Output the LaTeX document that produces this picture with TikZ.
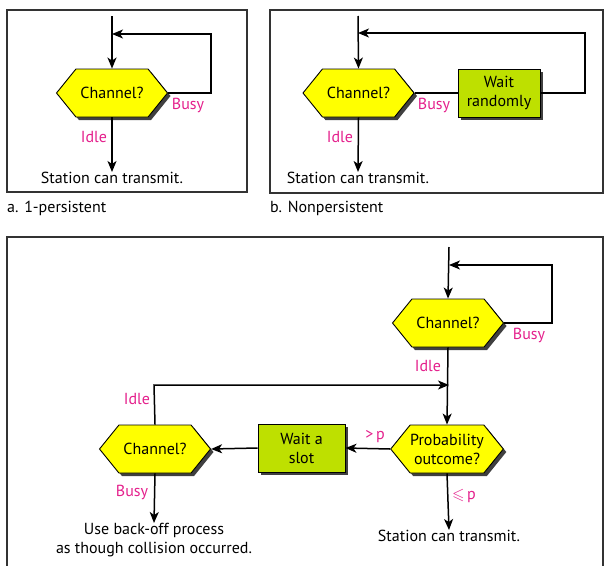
\documentclass[tikz,border=0pt]{standalone}
\usepackage{amssymb}
\usepackage{fontspec}
\setmainfont{PT Sans}
\usetikzlibrary{shapes.symbols,shadows,arrows.meta}
\definecolor{hexyellow}{RGB}{255,255,0}
\definecolor{waitgreen}{RGB}{190,224,0}
\definecolor{labelpink}{RGB}{228,32,140}
\newcommand{\figfont}{\fontsize{16}{19}\selectfont}
\begin{document}
\begin{tikzpicture}[x=1pt,y=-1pt,>={Stealth[length=11pt,width=9pt,inset=3pt]}]

\tikzstyle{framebox} = [draw=black!80,line width=1.3pt];
\tikzstyle{channelnode} = [signal,signal to=east and west,signal pointer angle=102,minimum width=111pt,minimum height=48pt,inner sep=0pt,draw,line width=0.9pt,fill=hexyellow,align=center,font=\figfont,drop shadow={shadow xshift=3pt,shadow yshift=-3pt,fill=black!75,opacity=1}];
\tikzstyle{waitnode} = [rectangle,minimum height=48pt,inner sep=0pt,draw,line width=0.9pt,fill=waitgreen,align=center,font=\figfont,drop shadow={shadow xshift=3pt,shadow yshift=-3pt,fill=black!75,opacity=1}];
\tikzstyle{linklabel} = [text=labelpink,font=\figfont,inner sep=0pt];
\tikzstyle{plaintext} = [font=\figfont,inner sep=0pt,align=center];
\tikzstyle{flow} = [line width=1.5pt];

\useasboundingbox (0,0) rectangle (607,565);

\begin{scope}
\draw [framebox] (7,10) rectangle (247,192);
\node [plaintext,anchor=west] (capA) at (7,208) {a. 1-persistent};

\coordinate (a0) at (112,16);
\coordinate (aJ) at (112,34);
\node [channelnode] (chA) at (112,93) {Channel?};
\node [plaintext] (sendA) at (112,178) {Station can transmit.};

\draw [->,flow] (a0) -- (chA.north);
\draw [->,flow] (chA.east) -- (211,93) -- (211,34) -- (aJ);
\draw [->,flow] (chA.south) -- (sendA.north);

\node [linklabel] (busyA) at (188,105) {Busy};
\node [linklabel] (idleA) at (94,137) {Idle};
\end{scope}

\begin{scope}
\draw [framebox] (270,10) rectangle (603,193);
\node [plaintext,anchor=west] (capB) at (270,208) {b. Nonpersistent};

\coordinate (b0) at (358,16);
\coordinate (bJ) at (358,33);
\node [channelnode] (chB) at (358.5,93) {Channel?};
\node [waitnode,minimum width=82pt] (waitB) at (499,93) {Wait\\randomly};
\node [plaintext] (sendB) at (358,178) {Station can transmit.};

\draw [->,flow] (b0) -- (chB.north);
\draw [flow] (chB.east) -- (waitB.west);
\draw [->,flow] (waitB.east) -- (585,93) -- (585,33) -- (bJ);
\draw [->,flow] (chB.south) -- (sendB.north);

\node [linklabel] (busyB) at (434,105) {Busy};
\node [linklabel] (idleB) at (340,137) {Idle};
\end{scope}

\begin{scope}
\draw [framebox] (7,570) -- (7,237) -- (603,237) -- (603,570);

\coordinate (c0) at (449,247);
\coordinate (cJ) at (449,265);
\coordinate (cM) at (449,385);
\node [channelnode] (chC) at (448,323) {Channel?};
\node [channelnode] (probC) at (447,449) {Probability\\outcome?};
\node [waitnode,minimum width=87pt] (slotC) at (301.5,448) {Wait a\\slot};
\node [channelnode] (chD) at (155,449) {Channel?};
\node [plaintext] (sendC) at (449,536) {Station can transmit.};
\node [plaintext,anchor=north] (backC) at (154,523) {Use back-off process\\as though collision occurred.};

\draw [->,flow] (c0) -- (chC.north);
\draw [->,flow] (chC.east) -- (552,323) -- (552,265) -- (cJ);
\draw [->,flow] (chC.south) -- (probC.north);
\draw [->,flow] (chD.north) -- (154,385) -- (cM);
\draw [->,flow] (probC.west) -- (slotC.east);
\draw [->,flow] (slotC.west) -- (chD.east);
\draw [->,flow] (probC.south) -- (sendC.north);
\draw [->,flow] (chD.south) -- (backC.north);

\node [linklabel] (busyC) at (529,335) {Busy};
\node [linklabel] (idleC) at (428,366) {Idle};
\node [linklabel] (gtC) at (375,437) {>\,p};
\node [linklabel] (leC) at (464,496) {$\leqslant$\,p};
\node [linklabel] (idleD) at (137,399) {Idle};
\node [linklabel] (busyD) at (132,492) {Busy};
\end{scope}

\end{tikzpicture}
\end{document}
